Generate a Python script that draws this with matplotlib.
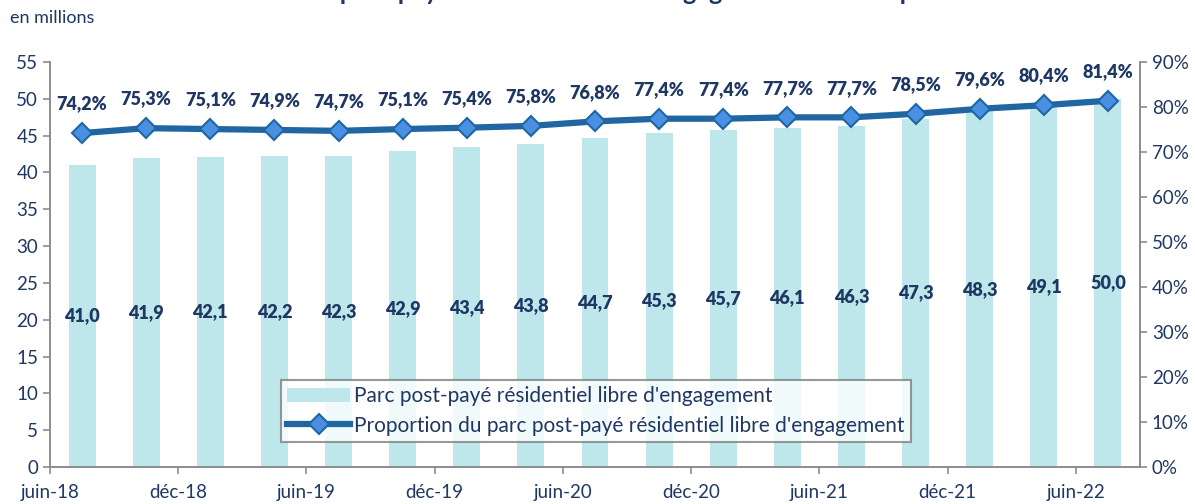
import matplotlib
matplotlib.use("Agg")
import matplotlib.pyplot as plt
from matplotlib.ticker import FuncFormatter, MultipleLocator

periods = ["juin-18", "sept-18", "déc-18", "mars-19", "juin-19", "sept-19", "déc-19", "mars-20",
           "juin-20", "sept-20", "déc-20", "mars-21", "juin-21", "sept-21", "déc-21", "mars-22", "juin-22"]
parc = [41.0, 41.9, 42.1, 42.2, 42.3, 42.9, 43.4, 43.8, 44.7, 45.3, 45.7, 46.1, 46.3, 47.3, 48.3, 49.1, 50.0]
proportion = [74.2, 75.3, 75.1, 74.9, 74.7, 75.1, 75.4, 75.8, 76.8, 77.4, 77.4, 77.7, 77.7, 78.5, 79.6, 80.4, 81.4]
tick_labels = ["juin-18", "déc-18", "juin-19", "déc-19", "juin-20", "déc-20", "juin-21", "déc-21", "juin-22"]

title = "Parc post-payé résidentiel libre d'engagement en métropole"
bar_label = "Parc post-payé résidentiel libre d'engagement"
line_label = "Proportion du parc post-payé résidentiel libre d'engagement"

navy = "#1F3763"
bar_color = "#BDE7EA"
line_color = "#1F66A3"
marker_face = "#4A90E2"
spine_color = "#8C8C8C"

plt.rcParams['font.family'] = ['Lato', 'DejaVu Sans']

fig = plt.figure(figsize=(11.95, 5.04), dpi=100)
ax = fig.add_axes([50/1195, 37/504, 1090/1195, 405/504])
ax2 = ax.twinx()

n = len(parc)
x = [i + 0.5 for i in range(n)]

bars = ax.bar(x, parc, width=0.42, color=bar_color, zorder=1, label=bar_label)
for xi, v in zip(x, parc):
    ax.text(xi, v / 2, f"{v:.1f}".replace(".", ","), ha="center", va="center",
            fontsize=13, fontweight="heavy", color=navy, zorder=3)

ax.set_xlim(0, n)
ax.set_ylim(0, 55)
ax.yaxis.set_major_locator(MultipleLocator(5))
ax.set_xticks(list(range(0, n, 2)))
ax.set_xticklabels(tick_labels)

line, = ax2.plot(x, proportion, color=line_color, lw=4.5, marker="D", markersize=10,
                 markerfacecolor=marker_face, markeredgecolor=line_color, markeredgewidth=1.5,
                 zorder=4, label=line_label)
for xi, p in zip(x, proportion):
    ax2.annotate(f"{p:.1f}%".replace(".", ","), (xi, p), xytext=(0, 21), textcoords="offset points",
                 ha="center", va="center", fontsize=13, fontweight="heavy", color=navy)
ax2.set_ylim(0, 90)
ax2.yaxis.set_major_locator(MultipleLocator(10))
ax2.yaxis.set_major_formatter(FuncFormatter(lambda v, _: f"{v:.0f}%"))

for a in (ax, ax2):
    a.spines["top"].set_visible(False)
    for s in ("left", "right", "bottom"):
        a.spines[s].set_color(spine_color)
        a.spines[s].set_linewidth(1.2)
    a.tick_params(colors=spine_color, labelcolor=navy, labelsize=13.5, length=5, width=1.2)
ax.tick_params(axis="x", pad=7)

ax.set_zorder(0)
ax2.set_zorder(1)
ax2.patch.set_visible(False)

leg = fig.legend([bars, line], [bar_label, line_label], loc="upper left",
                 bbox_to_anchor=(281/1195, 1 - 380/504), fontsize=15, frameon=True,
                 fancybox=False, edgecolor="#7F7F7F", handlelength=3.0, borderpad=0.3,
                 labelspacing=0.45, handletextpad=0.2, borderaxespad=0)
leg.get_frame().set_linewidth(1.5)
for t in leg.get_texts():
    t.set_color(navy)

fig.text(10/1195, 1 - 18/504, "en millions", fontsize=13, color=navy, ha="left", va="center")
fig.text(616/1195, 1 - 0.5/504, title, fontsize=18, fontweight="bold", color=navy, ha="center", va="baseline")

fig.savefig("out.png", dpi=100)
